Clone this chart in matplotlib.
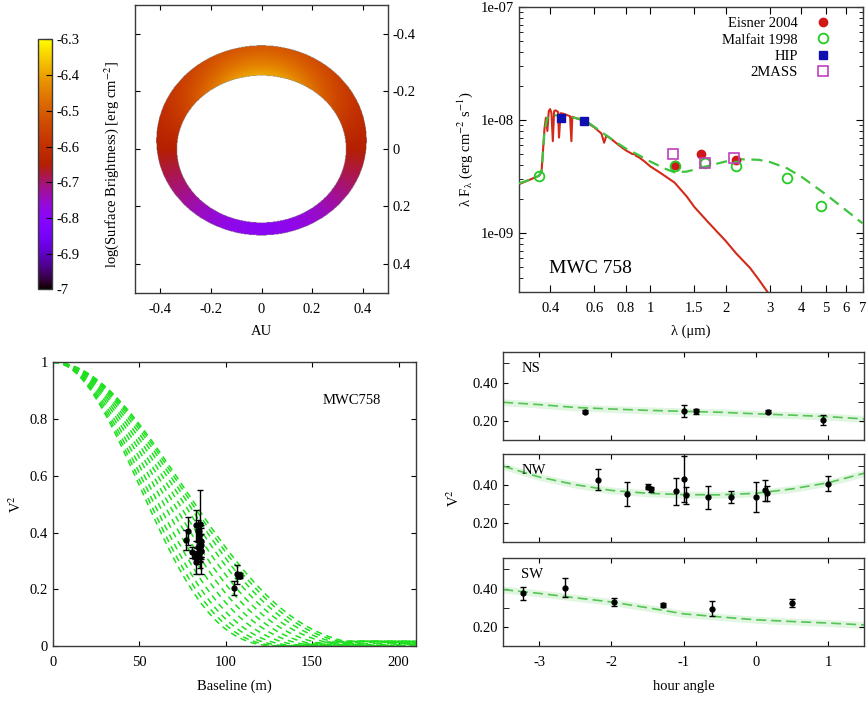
import numpy as np
import matplotlib
matplotlib.use('Agg')
import matplotlib.pyplot as plt
from matplotlib.ticker import FixedLocator, FuncFormatter, NullFormatter, NullLocator

plt.rcParams['font.family'] = ['Liberation Serif', 'DejaVu Serif']
plt.rcParams['mathtext.fontset'] = 'stix'
plt.rcParams['axes.unicode_minus'] = False
plt.rcParams['font.size'] = 10.5
plt.rcParams['xtick.direction'] = 'in'
plt.rcParams['ytick.direction'] = 'in'
plt.rcParams['xtick.top'] = True
plt.rcParams['ytick.right'] = True
plt.rcParams['axes.edgecolor'] = '#3a3a3a'
plt.rcParams['axes.linewidth'] = 1.0

# ---------------- ring model (AU) ----------------
ring_inner_axes = (0.335, 0.256)      # semi-axes of inner rim
ring_outer_axes = (0.416, 0.330)      # semi-axes of outer edge
ring_outer_shift = -0.030             # outer edge offset along y
ring_levels = (-6.65, 0.14, 0.12)     # mean, near/far contrast, inner-rim excess
cbar_ticks = [-7, -6.9, -6.8, -6.7, -6.6, -6.5, -6.4, -6.3]

# ---------------- SED ----------------
lam_star = [0.30, 0.33, 0.36, 0.365, 0.37, 0.375, 0.38, 0.385, 0.39, 0.395, 0.40, 0.405, 0.41, 0.415,
            0.42, 0.43, 0.434, 0.44, 0.45, 0.46, 0.47, 0.48, 0.486, 0.49, 0.50, 0.52, 0.55, 0.60,
            0.64, 0.656, 0.67, 0.70, 0.75, 0.80, 0.85, 0.87, 0.88, 0.90, 0.95, 1.0, 1.1, 1.25,
            1.4, 1.5, 1.7, 2.0, 2.2, 2.5, 2.7, 2.95]
flux_star = [2.7e-9, 2.95e-9, 3.2e-9, 3.3e-9, 3.6e-9, 5.5e-9, 8.5e-9, 1.05e-8, 8.0e-9, 1.2e-8, 1.25e-8,
             1.15e-8, 6.5e-9, 1.2e-8, 1.22e-8, 1.18e-8, 7.0e-9, 1.15e-8, 1.14e-8, 1.12e-8, 1.1e-8,
             1.08e-8, 6.5e-9, 1.07e-8, 1.05e-8, 1.02e-8, 9.8e-9, 8.6e-9, 7.6e-9, 6.3e-9, 7.3e-9,
             6.8e-9, 6.0e-9, 5.4e-9, 5.0e-9, 5.0e-9, 4.8e-9, 4.7e-9, 4.3e-9, 3.9e-9, 3.4e-9, 2.8e-9,
             2.1e-9, 1.7e-9, 1.25e-9, 8.5e-10, 6.6e-10, 4.9e-10, 3.9e-10, 2.95e-10]
lam_model = [0.30, 0.33, 0.36, 0.37, 0.38, 0.39, 0.40, 0.45, 0.55, 0.70, 0.80, 0.90, 1.0, 1.15, 1.25,
             1.4, 1.6, 2.0, 2.3, 2.7, 3.0, 3.5, 4.0, 5.0, 6.0, 7.0]
flux_model = [2.75e-9, 2.95e-9, 3.2e-9, 3.5e-9, 8.0e-9, 1.05e-8, 1.1e-8, 1.1e-8, 1.0e-8, 6.8e-9,
              5.6e-9, 4.9e-9, 4.3e-9, 3.7e-9, 3.45e-9, 3.5e-9, 3.8e-9, 4.3e-9, 4.5e-9, 4.45e-9,
              4.25e-9, 3.75e-9, 3.15e-9, 2.2e-9, 1.6e-9, 1.22e-9]

eisner_lam = [1.25, 1.6, 2.2]
eisner_flux = [4.0e-9, 5.0e-9, 4.4e-9]
malfait_lam = [0.36, 1.25, 1.65, 2.2, 3.5, 4.8]
malfait_flux = [3.2e-9, 3.9e-9, 4.2e-9, 3.9e-9, 3.05e-9, 1.72e-9]
hip_lam = [0.44, 0.545]
hip_flux = [1.04e-8, 9.8e-9]
tmass_lam = [1.235, 1.65, 2.16]
tmass_flux = [5.0e-9, 4.2e-9, 4.6e-9]
sed_xticks = [0.4, 0.6, 0.8, 1, 1.5, 2, 3, 4, 5, 6, 7]

# ---------------- visibilities ----------------
# first-null baselines (m) of the uniform-disk curves for the sampled position angles
disk_nulls = [130, 134, 139, 145, 152, 159, 166, 173, 180, 186, 191, 195]

ns_ha = [-2.37, -0.99, -0.83, 0.17, 0.93]
ns_v2 = [0.248, 0.252, 0.25, 0.248, 0.205]
ns_err = [0.008, 0.033, 0.012, 0.008, 0.024]
ns_base = [107.5, 106.5, 106.8, 108.0, 105.0]

nw_ha = [-2.18, -1.78, -1.50, -1.45, -1.10, -1.00, -0.97, -0.67, -0.35, 0.00, 0.13, 0.16, 1.00]
nw_v2 = [0.425, 0.35, 0.39, 0.375, 0.365, 0.43, 0.345, 0.335, 0.335, 0.335, 0.37, 0.355, 0.405]
nw_err = [0.055, 0.062, 0.015, 0.015, 0.07, 0.12, 0.045, 0.06, 0.03, 0.08, 0.055, 0.04, 0.04]
nw_base = [83.0, 84.0, 84.5, 84.5, 85.0, 85.0, 85.2, 85.3, 85.5, 85.5, 85.6, 85.4, 84.0]

sw_ha = [-3.22, -2.65, -1.97, -1.28, -0.61, 0.50]
sw_v2 = [0.375, 0.405, 0.33, 0.315, 0.295, 0.325]
sw_err = [0.035, 0.05, 0.02, 0.01, 0.04, 0.02]
sw_base = [77.0, 78.0, 80.5, 82.0, 83.0, 83.5]

ha_grid = [-3.5, -3.0, -2.5, -2.0, -1.5, -1.0, -0.5, 0.0, 0.5, 1.0, 1.5]
ns_model = [0.297, 0.285, 0.27, 0.262, 0.255, 0.25, 0.245, 0.237, 0.23, 0.222, 0.21]
nw_model = [0.497, 0.44, 0.40, 0.37, 0.355, 0.348, 0.347, 0.355, 0.378, 0.41, 0.46]
sw_model = [0.395, 0.375, 0.352, 0.33, 0.30, 0.268, 0.252, 0.237, 0.228, 0.22, 0.21]

fig = plt.figure(figsize=(8.66, 7.04), dpi=100)
fmt = FuncFormatter(lambda v, p: '%g' % round(v, 2))

# ================= ring image =================
ax1 = fig.add_axes([0.156, 0.584, 0.292, 0.409])
g = np.linspace(-0.5, 0.5, 500)
X, Y = np.meshgrid(g, g)
r_in = np.hypot(X / ring_inner_axes[0], Y / ring_inner_axes[1])
r_out = np.hypot(X / ring_outer_axes[0], (Y - ring_outer_shift) / ring_outer_axes[1])
inside = (r_in > 1) & (r_out <= 1)
t = np.clip((r_in - 1) / np.maximum((r_in - 1) + (1 - r_out), 1e-6), 0, 1)
s = -Y / np.maximum(np.hypot(X, Y), 1e-6)
mean, contrast, rim = ring_levels
img = mean + contrast * s + rim * (1 - t) * np.clip(s, 0, None)
img = np.ma.masked_where(~inside, img)
im = ax1.imshow(img, cmap='gnuplot', vmin=-7, vmax=-6.3, origin='lower',
                extent=(-0.5, 0.5, -0.5, 0.5), interpolation='bilinear', aspect='auto')
ax1.set_xlim(-0.5, 0.5)
ax1.set_ylim(0.5, -0.5)
ax1.set_xticks([-0.4, -0.2, 0, 0.2, 0.4])
ax1.set_yticks([-0.4, -0.2, 0, 0.2, 0.4])
ax1.xaxis.set_major_formatter(fmt)
ax1.yaxis.set_major_formatter(fmt)
ax1.yaxis.tick_right()
ax1.tick_params(axis='y', left=True, right=True, labelleft=False, labelright=True)
ax1.tick_params(axis='x', pad=7)
ax1.set_xlabel('AU', labelpad=7)

cax = fig.add_axes([0.044, 0.589, 0.016, 0.355])
cb = fig.colorbar(im, cax=cax, ticks=cbar_ticks)
cb.ax.yaxis.set_major_formatter(fmt)
cb.ax.tick_params(direction='in', length=4)
cb.set_label('log(Surface Brightness) [erg cm$^{-2}$]', labelpad=16)
cb.outline.set_edgecolor('#3a3a3a')

# ================= SED =================
ax2 = fig.add_axes([0.599, 0.585, 0.397, 0.405])
ax2.plot(lam_star, flux_star, color='#d42a1a', lw=1.5, zorder=2)
ax2.plot(lam_model, flux_model, color='#3ec43e', lw=1.6, dashes=(5, 3), zorder=3)
ax2.plot(eisner_lam, eisner_flux, 'o', color='#d01818', ms=6, ls='none', label='Eisner 2004', zorder=4)
ax2.plot(malfait_lam, malfait_flux, 'o', mfc='none', mec='#22cc22', mew=1.3, ms=7, ls='none',
         label='Malfait 1998', zorder=4)
ax2.plot(hip_lam, hip_flux, 's', color='#1010b0', ms=6, ls='none', label='HIP', zorder=4)
ax2.plot(tmass_lam, tmass_flux, 's', mfc='none', mec='#c040c0', mew=1.2, ms=7, ls='none',
         label='2MASS', zorder=4)
ax2.set_xscale('log')
ax2.set_yscale('log')
ax2.set_xlim(0.3, 7)
ax2.set_ylim(3e-10, 1e-7)
ax2.xaxis.set_major_locator(FixedLocator(sed_xticks))
ax2.xaxis.set_major_formatter(FuncFormatter(lambda v, p: '%g' % v))
ax2.xaxis.set_minor_locator(NullLocator())
ax2.yaxis.set_major_locator(FixedLocator([1e-9, 1e-8, 1e-7]))
ax2.yaxis.set_major_formatter(FuncFormatter(lambda v, p: '1e-%02d' % round(-np.log10(v))))
ax2.yaxis.set_minor_formatter(NullFormatter())
ax2.tick_params(which='minor', length=3)
ax2.tick_params(which='major', length=5)
ax2.tick_params(axis='x', pad=7)
ax2.set_xlabel('λ (μm)', labelpad=7)
ax2.set_ylabel(r'λ F$_\mathrm{λ}$ (erg cm$^{-2}$ s$^{-1}$)', labelpad=4)
ax2.text(0.395, 4.9e-10, 'MWC 758', fontsize=14, ha='left', va='center')
ax2.legend(loc='upper right', bbox_to_anchor=(0.935, 1.0), markerfirst=False, frameon=False,
           handletextpad=1.2, labelspacing=0.2, borderaxespad=0.3, handlelength=1.0, fontsize=10.5)

# ================= V2 vs baseline =================
ax3 = fig.add_axes([0.0612, 0.0824, 0.419, 0.403])
B = np.linspace(0.01, 210, 500)
tau = np.linspace(0, np.pi, 400)
for bn in disk_nulls:
    x = 3.8317 * B / bn
    j1 = np.trapezoid(np.cos(tau[None, :] - x[:, None] * np.sin(tau[None, :])), tau, axis=1) / np.pi
    vis = 2 * j1 / x
    ax3.plot(B, vis ** 2, color='#1ee01e', lw=1.1, dashes=(4, 3))
for base, v2, err in [(ns_base, ns_v2, ns_err), (nw_base, nw_v2, nw_err), (sw_base, sw_v2, sw_err)]:
    ax3.errorbar(base, v2, yerr=err, fmt='o', color='black', ms=3.5, capsize=2, elinewidth=1, zorder=5)
ax3.set_xlim(0, 210)
ax3.set_ylim(0, 1)
ax3.set_xticks([0, 50, 100, 150, 200])
ax3.set_yticks([0, 0.2, 0.4, 0.6, 0.8, 1])
ax3.yaxis.set_major_formatter(fmt)
ax3.tick_params(axis='x', pad=7)
ax3.set_xlabel('Baseline (m)', labelpad=8)
ax3.set_ylabel('V$^2$')
ax3.text(173, 0.865, 'MWC758', ha='center', va='center')

# ================= V2 vs hour angle =================
panels = [
    ([0.581, 0.375, 0.417, 0.125], 'NS', ns_ha, ns_v2, ns_err, ns_model),
    ([0.581, 0.230, 0.417, 0.125], 'NW', nw_ha, nw_v2, nw_err, nw_model),
    ([0.581, 0.0824, 0.417, 0.125], 'SW', sw_ha, sw_v2, sw_err, sw_model),
]
for i, (pos, name, ha, v2, err, model) in enumerate(panels):
    ax = fig.add_axes(pos)
    mod = np.array(model)
    ax.fill_between(ha_grid, mod - 0.018, mod + 0.018, color='#e0f6e0', lw=0, zorder=1)
    ax.plot(ha_grid, mod, color='#55c455', lw=1.2, dashes=(6, 3), zorder=2)
    ax.errorbar(ha, v2, yerr=err, fmt='o', color='black', ms=3.5, capsize=2.5, elinewidth=1, zorder=5)
    ax.set_xlim(-3.5, 1.5)
    ax.set_ylim(0.1, 0.56)
    ax.set_yticks([0.2, 0.4])
    ax.yaxis.set_minor_locator(FixedLocator([0.3, 0.5]))
    ax.yaxis.set_major_formatter(FuncFormatter(lambda v, p: '%.2f' % v))
    ax.set_xticks([-3, -2, -1, 0, 1])
    ax.tick_params(which='minor', length=4)
    ax.text(-3.25, 0.473, name, ha='left', va='center')
    if i < 2:
        ax.tick_params(labelbottom=False)
    else:
        ax.xaxis.set_major_formatter(FuncFormatter(lambda v, p: '%g' % v))
        ax.tick_params(axis='x', pad=7)
        ax.set_xlabel('hour angle', labelpad=8)
    if i == 1:
        ax.set_ylabel('V$^2$', labelpad=8)

fig.savefig('out.png', dpi=100)
